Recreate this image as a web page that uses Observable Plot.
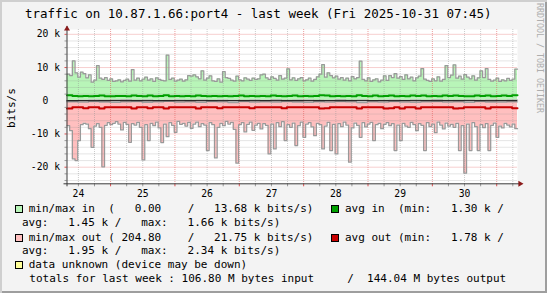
<!DOCTYPE html>
<html><head><meta charset="utf-8">
<script src="https://cdn.jsdelivr.net/npm/d3@7"></script>
<script src="https://cdn.jsdelivr.net/npm/@observablehq/plot@0.6"></script>
<style>
html,body{margin:0;padding:0;background:#f3f3f3}
#c{position:relative;width:547px;height:293px;background:#f3f3f3;box-shadow:inset 2px 2px 0 #cfcfcf, inset -2px -2px 0 #9e9e9e;overflow:hidden;font-family:"DejaVu Sans Mono",monospace;color:#000}
#c svg{position:absolute;left:0;top:0}
.t{position:absolute;white-space:pre;}
.title{left:25px;top:6px;font-size:12.5px;line-height:15px}
.lg{font-size:11px;line-height:14px}
.sw{position:absolute;width:8px;height:8px;box-sizing:border-box;border:1px solid #000}
.ylab{position:absolute;left:11px;top:108px;transform:translate(-50%,-50%) rotate(-90deg);font-size:11px;white-space:pre}
.wm{position:absolute;left:535px;top:3px;writing-mode:vertical-rl;font-size:8.3px;color:#adadad;white-space:pre}
</style></head>
<body>
<div id="c"></div>
<script>
// ---- data (k bits/s) ----
const titleText = "traffic on 10.87.1.66:port4 - last week (Fri 2025-10-31 07:45)";
const startTime = Date.UTC(2025, 9, 24, 7, 45);
const endTime = Date.UTC(2025, 9, 31, 7, 45);

// hourly maximum inbound
const maxIn = [
 8.0,7.6,12.0,8.4,7.1,8.6,8.2,6.9,7.8,5.6,6.2,10.6,
 6.8,6.4,7.0,6.1,6.6,5.8,6.0,6.3,5.7,6.1,6.5,5.9,
 9.4,6.2,6.8,6.0,6.5,7.1,6.2,6.6,5.8,6.9,6.4,6.1,
 6.0,13.7,6.4,6.8,5.9,6.2,6.5,5.9,6.3,7.6,7.4,7.8,
 7.2,6.6,9.0,6.2,6.8,7.5,6.0,5.8,6.6,5.6,8.8,7.0,
 6.7,6.2,5.9,7.4,6.3,6.0,6.9,6.5,6.1,6.8,6.4,6.6,
 7.8,8.0,6.9,6.4,7.2,6.7,6.2,7.6,6.5,6.8,9.6,6.3,
 6.9,6.1,6.6,7.0,6.0,6.3,6.8,5.9,6.4,7.2,8.0,10.9,
 7.1,8.4,7.6,6.9,7.4,6.5,7.0,6.2,6.8,6.0,7.3,6.6,
 7.0,11.9,6.4,6.0,6.9,5.8,6.3,6.6,5.7,6.2,7.5,6.1,
 7.6,7.0,8.2,6.8,7.3,6.4,7.8,6.6,7.1,6.0,6.9,7.4,
 9.7,6.5,6.1,5.8,6.6,6.0,7.2,5.9,6.4,10.6,7.0,7.7,
 10.8,6.8,7.4,6.5,7.9,7.1,6.6,7.5,6.2,6.9,9.0,7.0,
 9.7,6.4,5.9,6.2,6.8,5.8,6.3,6.0,6.7,6.1,6.5,9.5
];
// hourly maximum outbound
const maxOut = [
 7.5,9.0,17.5,18.0,12.0,7.2,6.8,7.0,8.4,14.0,7.6,6.9,
 8.0,19.9,7.4,6.6,7.2,6.8,6.3,7.0,8.8,6.5,7.1,12.5,
 6.9,7.3,6.5,8.0,17.8,7.2,12.0,6.8,7.5,6.4,8.2,12.6,
 7.0,10.8,6.6,7.4,9.5,6.2,7.1,6.8,7.6,6.5,8.3,7.0,
 6.4,7.8,6.9,7.3,15.0,6.6,7.2,17.2,8.0,6.8,7.5,6.2,
 7.0,6.5,8.6,18.8,7.2,6.6,9.4,7.1,6.4,8.9,7.3,6.8,
 8.5,6.9,7.4,16.0,7.0,14.5,6.6,7.8,6.3,12.0,7.2,8.0,
 6.7,13.5,7.5,6.4,11.0,7.0,6.6,7.9,10.5,6.8,7.2,14.5,
 7.6,6.5,15.0,7.1,16.0,6.9,7.8,6.4,7.3,18.5,8.2,6.7,
 7.4,11.0,6.6,7.9,7.0,6.5,12.0,7.2,6.8,8.4,7.1,6.6,
 7.5,6.9,15.0,7.3,12.0,6.8,7.6,8.0,6.5,7.2,9.0,6.9,
 7.4,15.0,6.6,7.8,7.0,9.6,6.4,7.3,8.5,6.7,7.6,7.1,
 8.0,6.8,15.0,7.5,21.8,7.0,15.0,6.6,7.8,15.0,7.2,8.1,
 6.9,15.0,7.4,6.7,11.0,7.6,8.2,6.8,7.3,7.9,7.0,8.4
];
// 2-hourly averages
const avgIn = [
 1.62,1.40,1.38,1.42,1.37,1.41,1.60,1.39,1.36,1.40,1.43,1.38,
 1.61,1.41,1.37,1.58,1.39,1.42,1.63,1.38,1.40,1.36,1.41,1.39,
 1.60,1.40,1.37,1.43,1.38,1.41,1.36,1.40,1.57,1.39,1.42,1.37,
 1.40,1.38,1.59,1.41,1.37,1.40,1.56,1.39,1.42,1.38,1.40,1.62,
 1.60,1.39,1.41,1.37,1.40,1.38,1.62,1.41,1.39,1.60,1.38,1.40,
 1.58,1.39,1.41,1.37,1.61,1.40,1.59,1.38,1.42,1.39,1.60,1.40,
 1.58,1.41,1.37,1.39,1.61,1.40,1.59,1.38,1.42,1.57,1.40,1.66
];
const avgOut = [
 2.30,1.95,1.92,2.28,1.96,1.93,2.32,1.97,1.94,1.98,1.92,1.96,
 2.31,1.94,1.97,2.29,1.93,1.96,2.33,1.95,1.92,1.97,1.94,1.96,
 2.30,1.93,1.97,1.95,2.28,1.94,1.96,1.92,1.97,1.95,2.26,1.93,
 1.96,1.94,1.97,1.93,2.27,1.95,1.92,1.96,1.94,1.97,1.93,2.32,
 2.29,1.95,1.93,1.97,1.94,1.96,2.31,1.92,1.95,1.97,1.94,2.30,
 2.28,1.96,2.30,1.93,1.95,2.34,1.97,1.94,1.96,1.92,1.95,1.97,
 2.30,2.28,1.94,1.96,1.93,1.95,2.31,1.97,1.94,1.92,1.96,2.29
];
// 4-hourly minimums
const minIn = [0.00,0.12,0.20,0.08,0.15,0.22,0.10,0.18,0.05,0.14,0.20,0.11,0.16,0.09,0.21,0.13,0.07,0.18,0.12,0.24,0.10,0.15,0.19,0.08,0.13,0.22,0.11,0.17,0.06,0.14,0.20,0.12,0.16,0.09,0.23,0.14,0.10,0.18,0.13,0.21,0.11,0.15];
const minOut = [0.30,0.42,0.25,0.38,0.50,0.33,0.28,0.45,0.36,0.21,0.40,0.31,0.47,0.29,0.35,0.52,0.27,0.39,0.33,0.44,0.26,0.37,0.48,0.30,0.41,0.24,0.36,0.55,0.32,0.43,0.28,0.39,0.46,0.34,0.25,0.41,0.31,0.50,0.29,0.37,0.44,0.33];

const dayLabels = ["24","25","26","27","28","29","30"];
const yTickValues = [-20, -10, 0, 10, 20];
const yTickLabels = ["-20 k", "-10 k", "0\u00a0\u00a0", "10 k", "20 k"];

const legendRows = [
  {swatch: "#b8f5b8", text: "min/max in  (   0.00    /   13.68 k bits/s)", swatch2: "#00a000", text2: "avg in  (min:   1.30 k /"},
  {text: "avg:   1.45 k /   max:   1.66 k bits/s)", indent: true},
  {swatch: "#ffbfbf", text: "min/max out ( 204.80    /   21.75 k bits/s)", swatch2: "#c80000", text2: "avg out (min:   1.78 k /"},
  {text: "avg:   1.95 k /   max:   2.34 k bits/s)", indent: true},
  {swatch: "#ffff99", text: "data unknown (device may be down)"},
  {text: "totals for last week : 106.80 M bytes input     /  144.04 M bytes output", plain: true}
];
const unitLabel = "bits/s";
const watermark = "RRDTOOL / TOBI OETIKER";

// ---- build rows ----
function stepRows(values) {
  const step = (endTime - startTime) / values.length;
  const rows = values.map((v, i) => ({t: new Date(startTime + i * step), v}));
  rows.push({t: new Date(endTime), v: values[values.length - 1]});
  return rows;
}
const hourStep = (endTime - startTime) / maxIn.length;
const inRows = maxIn.map((v, i) => ({t: new Date(startTime + i * hourStep), hi: v, lo: minIn[Math.floor(i * minIn.length / maxIn.length)]}));
inRows.push({t: new Date(endTime), hi: maxIn[maxIn.length - 1], lo: minIn[minIn.length - 1]});
const outRows = maxOut.map((v, i) => ({t: new Date(startTime + i * hourStep), hi: -v, lo: -minOut[Math.floor(i * minOut.length / maxOut.length)]}));
outRows.push({t: new Date(endTime), hi: -maxOut[maxOut.length - 1], lo: -minOut[minOut.length - 1]});
const avgInRows = stepRows(avgIn);
const avgOutRows = stepRows(avgOut).map(d => ({t: d.t, v: -d.v}));

const majorX = d3.utcDay.range(new Date(startTime), new Date(endTime));
const minorX = d3.utcHour.every(6).range(new Date(startTime), new Date(endTime)).filter(d => d.getUTCHours() !== 0);
const noonTicks = dayLabels.map(l => new Date(Date.UTC(2025, 9, +l, 12)));
const majorY = yTickValues.filter(v => v !== 0);
const minorY = d3.range(-24, 21, 2).filter(v => v % 10 !== 0);

const arrowUp = {draw(ctx, size) { const s = Math.sqrt(size) / 2; ctx.moveTo(0, -s); ctx.lineTo(s, s * 0.7); ctx.lineTo(-s, s * 0.7); ctx.closePath(); }};
const arrowRight = {draw(ctx, size) { const s = Math.sqrt(size) / 2; ctx.moveTo(s, 0); ctx.lineTo(-s * 0.7, -s); ctx.lineTo(-s * 0.7, s); ctx.closePath(); }};

const GRID = {stroke: "#8f8f8f", strokeOpacity: 0.45, strokeDasharray: "1,1"};
const MGRID = {stroke: "#de5050", strokeOpacity: 0.55, strokeDasharray: "1,1"};
const AXIS = "#3a3a3a";
const ARROW = "#8b1a1a";

const chart = Plot.plot({
  width: 547,
  height: 200,
  marginLeft: 66.5,
  marginRight: 30,
  marginTop: 29,
  marginBottom: 16.7,
  style: {background: "transparent", fontFamily: "DejaVu Sans Mono", fontSize: "9.7px", color: "#000", overflow: "visible"},
  x: {type: "utc", domain: [new Date(startTime), new Date(endTime)]},
  y: {domain: [-25, 21.45]},
  marks: [
    Plot.frame({fill: "#fff", stroke: "none"}),
    Plot.areaY(inRows, {x: "t", y1: "lo", y2: "hi", curve: "step-after", fill: "#b8f5b8"}),
    Plot.areaY(outRows, {x: "t", y1: "lo", y2: "hi", curve: "step-after", fill: "#ffbfbf"}),
    Plot.ruleX(minorX, GRID),
    Plot.ruleY(minorY, GRID),
    Plot.ruleX(majorX, MGRID),
    Plot.ruleY(majorY, MGRID),
    Plot.lineY(inRows, {x: "t", y: "lo", curve: "step-after", stroke: "#a0a0a0", strokeWidth: 1.3}),
    Plot.lineY(outRows, {x: "t", y: "lo", curve: "step-after", stroke: "#a0a0a0", strokeWidth: 1.3}),
    Plot.lineY(inRows, {x: "t", y: "hi", curve: "step-after", stroke: "#999", strokeWidth: 1.25}),
    Plot.lineY(outRows, {x: "t", y: "hi", curve: "step-after", stroke: "#999", strokeWidth: 1.25}),
    Plot.lineY(avgInRows, {x: "t", y: "v", curve: "step-after", stroke: "#00a000", strokeWidth: 2}),
    Plot.lineY(avgOutRows, {x: "t", y: "v", curve: "step-after", stroke: "#c80000", strokeWidth: 2}),
    Plot.ruleY([0], {stroke: "#000", strokeWidth: 1}),
    // axes
    Plot.axisY(minorY, {tickSize: 2, tickFormat: () => "", color: "#999", label: null}),
    Plot.axisY(majorY, {tickSize: 2, tickFormat: () => "", color: "#de5050", label: null}),
    Plot.axisY(yTickValues, {tickSize: 0, tickPadding: 7, tickFormat: d => yTickLabels[yTickValues.indexOf(d)], label: null, fill: "#000"}),
    Plot.axisX(minorX, {tickSize: 3, tickFormat: () => "", color: "#999", label: null}),
    Plot.axisX(majorX, {tickSize: 3, tickFormat: () => "", color: "#de5050", label: null}),
    Plot.axisX(noonTicks, {tickSize: 0, tickPadding: 6, tickFormat: d => dayLabels[noonTicks.findIndex(n => +n === +d)], label: null, fill: "#000"}),
    Plot.ruleX([new Date(startTime)], {stroke: AXIS, strokeWidth: 1, insetTop: -3, insetBottom: -3}),
    Plot.ruleY([-25], {stroke: AXIS, strokeWidth: 1, insetLeft: -3, insetRight: -3}),
    Plot.dot([0], {frameAnchor: "top-left", symbol: arrowUp, r: 3.4, fill: ARROW, stroke: "none", dy: -1}),
    Plot.dot([0], {frameAnchor: "bottom-right", symbol: arrowRight, r: 3.4, fill: ARROW, stroke: "none", dx: 3})
  ]
});

const c = document.getElementById("c");
c.appendChild(chart);

function addDiv(cls, text, style) {
  const d = document.createElement("div");
  d.className = cls;
  d.textContent = text;
  Object.assign(d.style, style || {});
  c.appendChild(d);
  return d;
}
addDiv("t title", titleText);
addDiv("ylab", unitLabel);
addDiv("wm", watermark);

const rowTops = [202.3, 216.3, 230.5, 244.3, 258.3, 272];
legendRows.forEach((r, i) => {
  const top = rowTops[i];
  if (r.swatch) {
    addDiv("sw", "", {left: "14.5px", top: (top + 3) + "px", background: r.swatch});
  }
  const left = r.indent ? 22 : (r.plain ? 29.3 : 28.7);
  addDiv("t lg", r.text, {left: left + "px", top: top + "px"});
  if (r.swatch2) {
    addDiv("sw", "", {left: "331px", top: (top + 3) + "px", background: r.swatch2});
    addDiv("t lg", r.text2, {left: "345px", top: top + "px"});
  }
});
</script>
</body></html>
